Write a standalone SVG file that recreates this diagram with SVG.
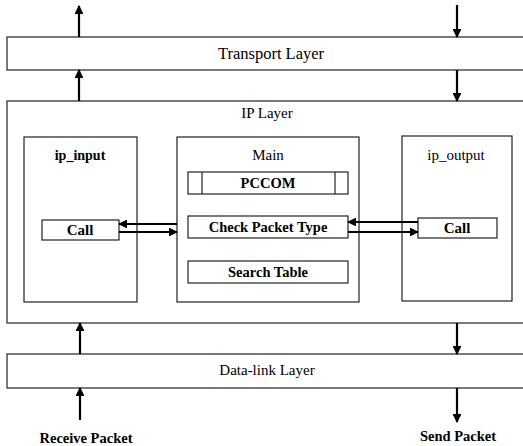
<svg xmlns="http://www.w3.org/2000/svg" width="523" height="446" viewBox="0 0 523 446">
<style>
.box{fill:#fff;stroke:#222;stroke-width:1.2}
.t{font-family:"Liberation Serif","Times New Roman",serif;font-size:15px;fill:#000;text-anchor:middle}
.b{font-weight:bold}
.s{font-size:14.5px}
.c{stroke:#000;stroke-width:2.2;fill:none}
</style>
<defs>
<marker id="ah" viewBox="0 0 10 10" refX="9" refY="5" markerWidth="4" markerHeight="4" markerUnits="strokeWidth" orient="auto">
<path d="M0,0 L10,5 L0,10 z" fill="#000"/>
</marker>
</defs>
<rect width="523" height="446" fill="#fff"/>
<g id="transport"><rect class="box" x="7" y="37" width="530" height="33"/><text class="t" x="271" y="59" style="font-size:16.5px">Transport Layer</text></g>
<g id="ip"><rect class="box" x="7" y="101" width="530" height="222"/><text class="t" x="267" y="118">IP Layer</text></g>
<g id="ip_input"><rect class="box" x="24" y="137" width="113" height="165"/><text class="t b" x="80" y="160" style="font-size:14px">ip_input</text></g>
<g id="call_in"><rect class="box" x="42" y="220" width="77" height="20"/><text class="t b" x="80" y="235">Call</text></g>
<g id="main"><rect class="box" x="177" y="137" width="182" height="165"/><text class="t" x="268" y="160">Main</text></g>
<g id="pccom"><rect class="box" x="188" y="172" width="160" height="22"/><line x1="202" y1="172" x2="202" y2="194" stroke="#222" stroke-width="1.2"/><line x1="335" y1="172" x2="335" y2="194" stroke="#222" stroke-width="1.2"/><text class="t b s" x="268" y="188">PCCOM</text></g>
<g id="check"><rect class="box" x="188" y="216" width="160" height="22"/><text class="t b s" x="268" y="232">Check Packet Type</text></g>
<g id="search"><rect class="box" x="188" y="261" width="160" height="22"/><text class="t b s" x="268" y="277">Search Table</text></g>
<g id="ip_output"><rect class="box" x="402" y="136" width="110" height="165"/><text class="t" x="456" y="160">ip_output</text></g>
<g id="call_out"><rect class="box" x="418" y="218" width="79" height="20"/><text class="t b" x="457" y="233">Call</text></g>
<g id="datalink"><rect class="box" x="7" y="354" width="530" height="34"/><text class="t" x="267" y="375">Data-link Layer</text></g>
<g id="recv"><text class="t b s" x="86" y="443">Receive Packet</text></g>
<g id="send"><text class="t b s" x="458" y="441">Send Packet</text></g>
<g id="connectors">
<line class="c" x1="79" y1="37" x2="79" y2="6" marker-end="url(#ah)"/>
<line class="c" x1="457" y1="5" x2="457" y2="37" marker-end="url(#ah)"/>
<line class="c" x1="79" y1="101" x2="79" y2="70" marker-end="url(#ah)"/>
<line class="c" x1="457" y1="70" x2="457" y2="101" marker-end="url(#ah)"/>
<line class="c" x1="80" y1="354" x2="80" y2="323" marker-end="url(#ah)"/>
<line class="c" x1="457" y1="323" x2="457" y2="354" marker-end="url(#ah)"/>
<line class="c" x1="80" y1="420" x2="80" y2="388" marker-end="url(#ah)"/>
<line class="c" x1="457" y1="388" x2="457" y2="422" marker-end="url(#ah)"/>
<line class="c" x1="177" y1="224" x2="119" y2="224" marker-end="url(#ah)"/>
<line class="c" x1="119" y1="232" x2="177" y2="232" marker-end="url(#ah)"/>
<line class="c" x1="418" y1="222" x2="348" y2="222" marker-end="url(#ah)"/>
<line class="c" x1="348" y1="232" x2="418" y2="232" marker-end="url(#ah)"/>
</g>
</svg>
